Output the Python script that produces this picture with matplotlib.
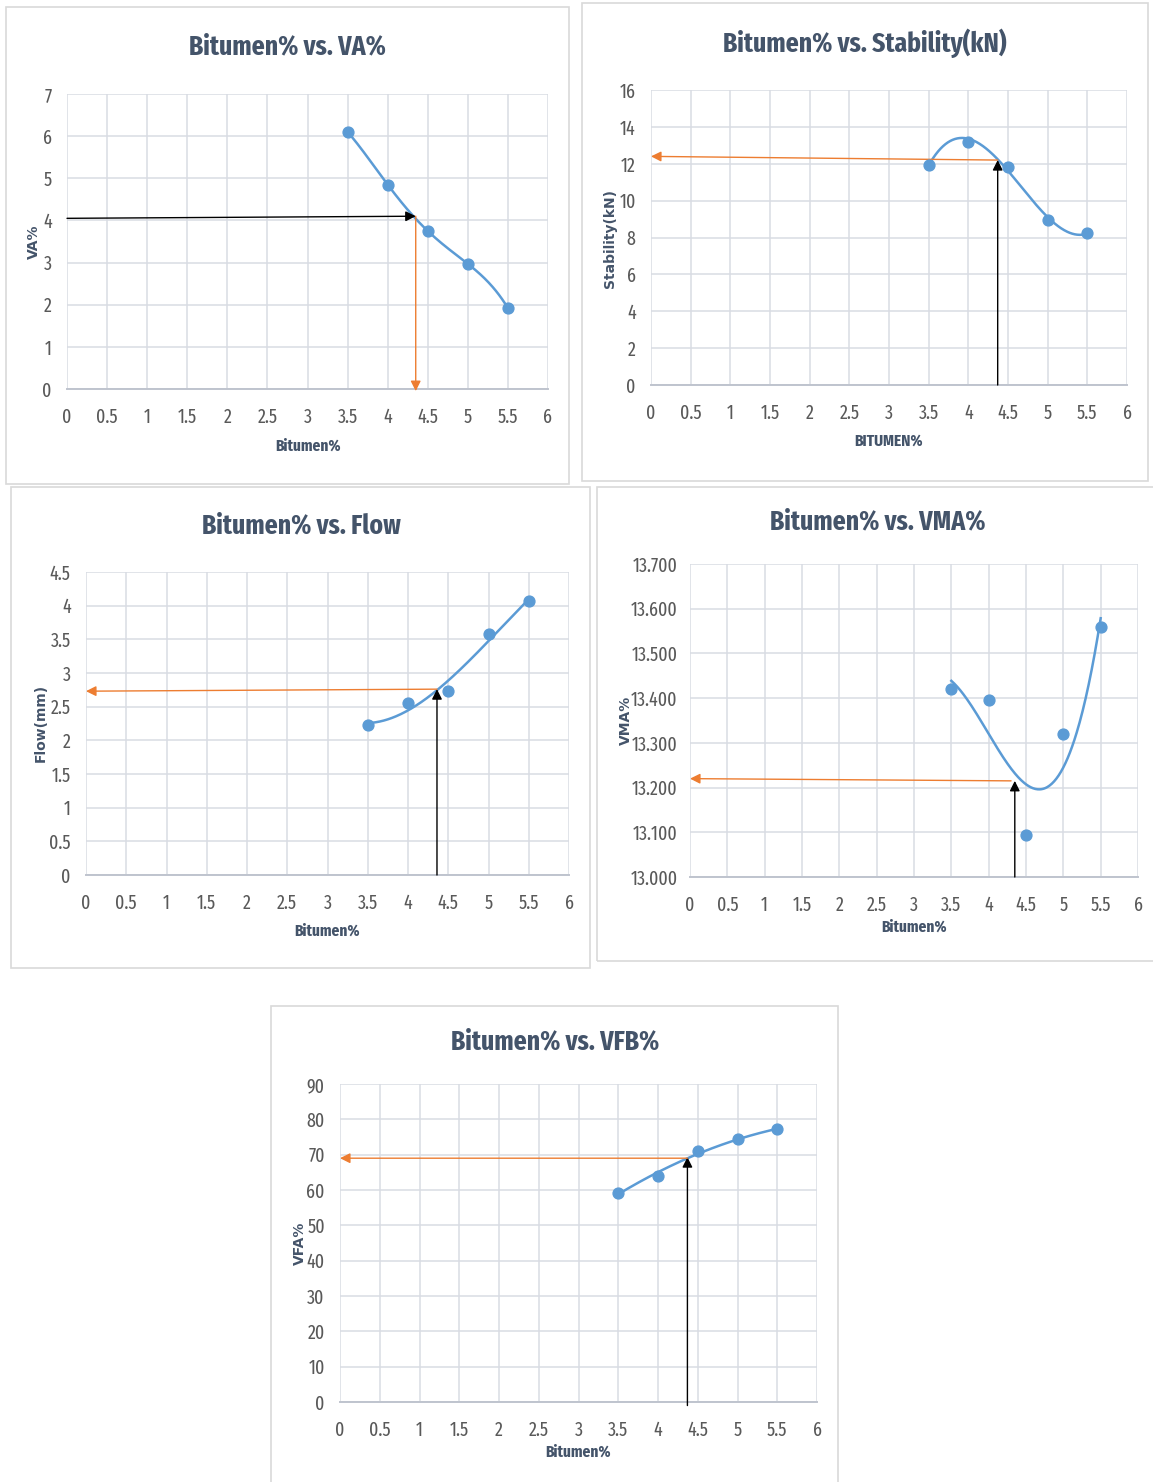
import numpy as np
import matplotlib
matplotlib.use("Agg")
import matplotlib.pyplot as plt
from matplotlib.patches import Rectangle

# ---------------- data ----------------
bitumen = [3.5, 4.0, 4.5, 5.0, 5.5]
va = [6.1, 4.85, 3.75, 2.97, 1.92]
stability = [11.95, 13.2, 11.85, 8.95, 8.25]
flow = [2.23, 2.55, 2.73, 3.58, 4.07]
vma = [13.42, 13.395, 13.095, 13.32, 13.56]
vfb = [59.2, 64.0, 71.0, 74.3, 77.2]

x_ticks = [0, 0.5, 1, 1.5, 2, 2.5, 3, 3.5, 4, 4.5, 5, 5.5, 6]
x_tick_labels = ["0", "0.5", "1", "1.5", "2", "2.5", "3", "3.5", "4", "4.5", "5", "5.5", "6"]
va_ticks = [0, 1, 2, 3, 4, 5, 6, 7]
stab_ticks = [0, 2, 4, 6, 8, 10, 12, 14, 16]
flow_ticks = [0, 0.5, 1, 1.5, 2, 2.5, 3, 3.5, 4, 4.5]
flow_tick_labels = ["0", "0.5", "1", "1.5", "2", "2.5", "3", "3.5", "4", "4.5"]
vma_ticks = [13.0, 13.1, 13.2, 13.3, 13.4, 13.5, 13.6, 13.7]
vma_tick_labels = ["13.000", "13.100", "13.200", "13.300", "13.400", "13.500", "13.600", "13.700"]
vfb_ticks = [0, 10, 20, 30, 40, 50, 60, 70, 80, 90]

# optimum-bitumen guide arrows: values
va_guide_x = [4.35, 4.35]
va_guide_y = [4.05, 4.1, -0.05]
stab_guide_x = 4.37
stab_guide_y = [12.2, 12.4]
flow_guide_x = 4.36
flow_guide_y = [2.76, 2.73]
vma_guide_x = 4.35
vma_guide_y = [13.215, 13.22]
vfb_guide_x = 4.37
vfb_guide_y = [69.3, 69.0]

# ---------------- style ----------------
W, H = 1153, 1482
fig = plt.figure(figsize=(W / 100, H / 100), dpi=100)
fig.patch.set_facecolor("white")

COND = ["Fira Sans Extra Condensed", "Carlito", "DejaVu Sans"]
BLUE = "#5B9BD5"
ORANGE = "#ED7D31"
TITLE_C = "#44546A"
TICK_C = "#595959"
GRID_C = "#D9DCE3"


def px_axes(x0, y0, x1, y1):
    return fig.add_axes([x0 / W, 1 - y1 / H, (x1 - x0) / W, (y1 - y0) / H])


def border(x0, y0, x1, y1):
    fig.patches.append(Rectangle((x0 / W, 1 - y1 / H), (x1 - x0) / W, (y1 - y0) / H,
                                 transform=fig.transFigure, fill=False,
                                 edgecolor="#D9D9D9", lw=1.2, zorder=0))


def ftext(x, y, s, **kw):
    fig.text(x / W, 1 - y / H, s, ha="center", va="center", **kw)


def style(ax, yticks, ylabels, ylim, ypad=9):
    ax.set_xlim(0, 6)
    ax.set_ylim(*ylim)
    ax.set_xticks(x_ticks)
    ax.set_xticklabels(x_tick_labels)
    ax.set_yticks(yticks)
    ax.set_yticklabels(ylabels)
    ax.grid(True, color=GRID_C, lw=1.1)
    ax.set_axisbelow(True)
    for s in ("left", "top", "right"):
        ax.spines[s].set_visible(False)
    ax.spines["bottom"].set_color("#BFC4CE")
    ax.spines["bottom"].set_linewidth(1.4)
    ax.tick_params(axis="both", length=0, labelsize=14, labelcolor=TICK_C)
    ax.tick_params(axis="x", pad=13)
    ax.tick_params(axis="y", pad=ypad)
    for lab in ax.get_xticklabels() + ax.get_yticklabels():
        lab.set_family(COND)
        lab.set_fontweight("normal")


def arrow(ax, start, end, color):
    ax.annotate("", xy=end, xytext=start,
                arrowprops=dict(arrowstyle="-|>", color=color, lw=1.0,
                                shrinkA=0, shrinkB=0, mutation_scale=15),
                annotation_clip=False)


def curve(ax, x, y, deg):
    c = np.polyfit(x, y, deg)
    xs = np.linspace(min(x), max(x), 200)
    ax.plot(xs, np.polyval(c, xs), color=BLUE, lw=1.8, zorder=3)
    ax.plot(x, y, "o", color=BLUE, ms=7.8, zorder=4)


def titles(cx, cy, title, xlab_xy, xlab, ylab_xy, ylab):
    ftext(cx, cy, title, fontsize=20, fontweight="bold", color=TITLE_C, family=COND)
    ftext(xlab_xy[0], xlab_xy[1], xlab, fontsize=12, fontweight="bold", color=TITLE_C, family=COND)
    ftext(ylab_xy[0], ylab_xy[1], ylab, fontsize=10, fontweight="bold", color=TITLE_C,
          rotation=90, family=["DejaVu Sans"])


# ---------------- panel 1: VA ----------------
border(6, 7, 569, 484)
ax1 = px_axes(67, 94, 548, 389)
style(ax1, va_ticks, [str(v) for v in va_ticks], (0, 7), ypad=11)
curve(ax1, bitumen, va, 4)
arrow(ax1, (0, va_guide_y[0]), (va_guide_x[0], va_guide_y[1]), "black")
arrow(ax1, (va_guide_x[1], va_guide_y[1]), (va_guide_x[1], va_guide_y[2]), ORANGE)
titles(287, 47, "Bitumen% vs. VA%", (308, 446), "Bitumen%", (34, 242), "VA%")

# ---------------- panel 2: Stability ----------------
border(582, 3, 1148, 481)
ax2 = px_axes(651, 90, 1127, 385)
style(ax2, stab_ticks, [str(v) for v in stab_ticks], (0, 16), ypad=11)
curve(ax2, bitumen, stability, 3)
arrow(ax2, (stab_guide_x, 0), (stab_guide_x, stab_guide_y[0]), "black")
arrow(ax2, (stab_guide_x, stab_guide_y[0]), (0, stab_guide_y[1]), ORANGE)
titles(865, 43, "Bitumen% vs. Stability(kN)", (889, 441), "BITUMEN%", (610, 238), "Stability(kN)")

# ---------------- panel 3: Flow ----------------
border(11, 487, 590, 968)
ax3 = px_axes(86, 572, 569, 875)
style(ax3, flow_ticks, flow_tick_labels, (0, 4.5), ypad=11)
curve(ax3, bitumen, flow, 3)
arrow(ax3, (flow_guide_x, 0), (flow_guide_x, flow_guide_y[0]), "black")
arrow(ax3, (flow_guide_x, flow_guide_y[0]), (0, flow_guide_y[1]), ORANGE)
titles(301, 526, "Bitumen% vs. Flow", (327, 931), "Bitumen%", (41, 723), "Flow(mm)")

# ---------------- panel 4: VMA ----------------
border(597, 487, 1160, 961)
ax4 = px_axes(690, 564, 1138, 877)
style(ax4, vma_ticks, vma_tick_labels, (13.0, 13.7), ypad=9)
curve(ax4, bitumen, vma, 3)
arrow(ax4, (vma_guide_x, 13.0), (vma_guide_x, vma_guide_y[0]), "black")
arrow(ax4, (vma_guide_x - 0.05, vma_guide_y[0]), (0, vma_guide_y[1]), ORANGE)
titles(878, 522, "Bitumen% vs. VMA%", (914, 927), "Bitumen%", (626, 720), "VMA%")

# ---------------- panel 5: VFB ----------------
border(271, 1006, 838, 1490)
ax5 = px_axes(340, 1084, 817, 1402)
style(ax5, vfb_ticks, [str(v) for v in vfb_ticks], (0, 90), ypad=11)
curve(ax5, bitumen, vfb, 2)
arrow(ax5, (vfb_guide_x, -1), (vfb_guide_x, vfb_guide_y[0]), "black")
arrow(ax5, (vfb_guide_x, vfb_guide_y[1]), (0, vfb_guide_y[1]), ORANGE)
titles(555, 1042, "Bitumen% vs. VFB%", (578, 1452), "Bitumen%", (300, 1243), "VFA%")

fig.savefig("out.png", dpi=100, facecolor="white")
